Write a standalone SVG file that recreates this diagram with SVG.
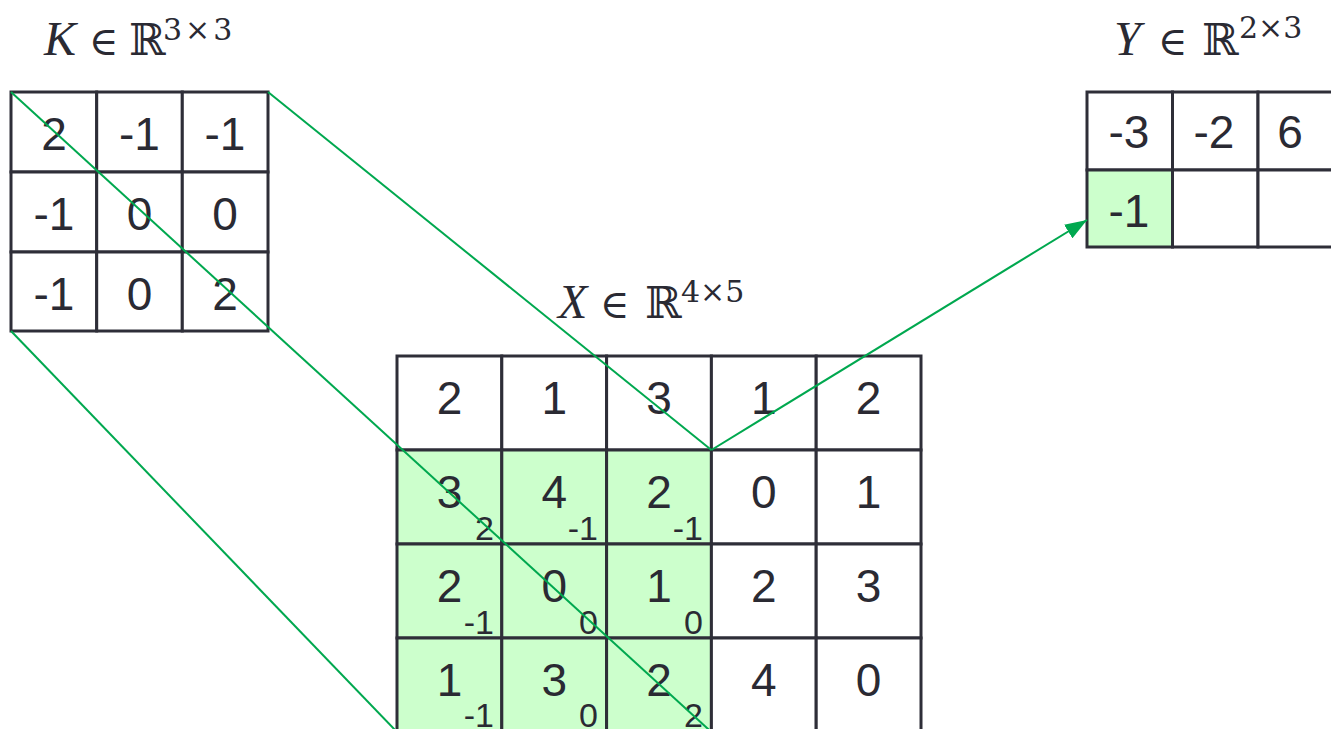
<svg xmlns="http://www.w3.org/2000/svg" width="1331" height="729" viewBox="0 0 1331 729">
<defs>
<style>
.cell{fill:#ffffff;stroke:#2e2e38;stroke-width:3}
.hl{fill:#ccffcc;stroke:#2e2e38;stroke-width:3}
.n{font-family:"Liberation Sans",Arial,sans-serif;font-size:46px;fill:#2a2a33;text-anchor:middle}
.s{font-family:"Liberation Sans",Arial,sans-serif;font-size:34px;fill:#2a2a33;text-anchor:end}
.t{font-family:"Liberation Serif","DejaVu Serif",serif;font-size:48px;fill:#2a2a33}
.it{font-style:italic}
.el{font-family:"DejaVu Serif","DejaVu Sans",serif;font-size:40px}
.sym{font-family:"DejaVu Serif","DejaVu Sans",serif;font-size:44px}
.sup{font-family:"DejaVu Serif","DejaVu Sans",serif;font-size:30px}
.con{stroke:#00a84f;stroke-width:2;fill:none}
</style>
<marker id="ah" markerUnits="userSpaceOnUse" markerWidth="22" markerHeight="16" refX="22" refY="8" orient="auto">
<path d="M0,0 L22,8 L0,16 z" fill="#00a84f"/>
</marker>
</defs>
<rect width="1331" height="729" fill="#ffffff"/>

<g id="title-K">
<text class="t" y="55"><tspan class="it" x="44">K</tspan><tspan class="el" x="89">∈</tspan><tspan class="sym" x="129">ℝ</tspan><tspan class="sup" x="163" y="40" letter-spacing="3">3×3</tspan></text>
</g>
<g id="title-X">
<text class="t" y="318"><tspan class="it" x="558">X</tspan><tspan class="el" x="600">∈</tspan><tspan class="sym" x="645">ℝ</tspan><tspan class="sup" x="681" y="302">4×5</tspan></text>
</g>
<g id="title-Y">
<text class="t" y="55"><tspan class="it" x="1114">Y</tspan><tspan class="el" x="1158">∈</tspan><tspan class="sym" x="1202">ℝ</tspan><tspan class="sup" x="1239" y="38">2×3</tspan></text>
</g>

<g id="K">
<rect class="cell" x="11" y="92" width="85.7" height="80"/>
<rect class="cell" x="96.7" y="92" width="85.6" height="80"/>
<rect class="cell" x="182.3" y="92" width="85.7" height="80"/>
<rect class="cell" x="11" y="172" width="85.7" height="80"/>
<rect class="cell" x="96.7" y="172" width="85.6" height="80"/>
<rect class="cell" x="182.3" y="172" width="85.7" height="80"/>
<rect class="cell" x="11" y="252" width="85.7" height="79"/>
<rect class="cell" x="96.7" y="252" width="85.6" height="79"/>
<rect class="cell" x="182.3" y="252" width="85.7" height="79"/>
<text class="n" x="54" y="150">2</text>
<text class="n" x="139.5" y="150">-1</text>
<text class="n" x="225" y="150">-1</text>
<text class="n" x="54" y="230">-1</text>
<text class="n" x="139.5" y="230">0</text>
<text class="n" x="225" y="230">0</text>
<text class="n" x="54" y="310">-1</text>
<text class="n" x="139.5" y="310">0</text>
<text class="n" x="225" y="310">2</text>
</g>

<g id="X">
<rect class="cell" x="397" y="356" width="104.8" height="94"/>
<rect class="cell" x="501.8" y="356" width="104.8" height="94"/>
<rect class="cell" x="606.6" y="356" width="104.8" height="94"/>
<rect class="cell" x="711.4" y="356" width="104.8" height="94"/>
<rect class="cell" x="816.2" y="356" width="104.8" height="94"/>
<rect class="hl" x="397" y="450" width="104.8" height="94"/>
<rect class="hl" x="501.8" y="450" width="104.8" height="94"/>
<rect class="hl" x="606.6" y="450" width="104.8" height="94"/>
<rect class="cell" x="711.4" y="450" width="104.8" height="94"/>
<rect class="cell" x="816.2" y="450" width="104.8" height="94"/>
<rect class="hl" x="397" y="544" width="104.8" height="94"/>
<rect class="hl" x="501.8" y="544" width="104.8" height="94"/>
<rect class="hl" x="606.6" y="544" width="104.8" height="94"/>
<rect class="cell" x="711.4" y="544" width="104.8" height="94"/>
<rect class="cell" x="816.2" y="544" width="104.8" height="94"/>
<rect class="hl" x="397" y="638" width="104.8" height="94"/>
<rect class="hl" x="501.8" y="638" width="104.8" height="94"/>
<rect class="hl" x="606.6" y="638" width="104.8" height="94"/>
<rect class="cell" x="711.4" y="638" width="104.8" height="94"/>
<rect class="cell" x="816.2" y="638" width="104.8" height="94"/>
<text class="n" x="449.5" y="414">2</text>
<text class="n" x="554.2" y="414">1</text>
<text class="n" x="659" y="414">3</text>
<text class="n" x="763.8" y="414">1</text>
<text class="n" x="868.6" y="414">2</text>
<text class="n" x="449.5" y="508">3</text>
<text class="n" x="554.2" y="508">4</text>
<text class="n" x="659" y="508">2</text>
<text class="n" x="763.8" y="508">0</text>
<text class="n" x="868.6" y="508">1</text>
<text class="n" x="449.5" y="602">2</text>
<text class="n" x="554.2" y="602">0</text>
<text class="n" x="659" y="602">1</text>
<text class="n" x="763.8" y="602">2</text>
<text class="n" x="868.6" y="602">3</text>
<text class="n" x="449.5" y="696">1</text>
<text class="n" x="554.2" y="696">3</text>
<text class="n" x="659" y="696">2</text>
<text class="n" x="763.8" y="696">4</text>
<text class="n" x="868.6" y="696">0</text>
<text class="s" x="494" y="540">2</text>
<text class="s" x="598" y="540">-1</text>
<text class="s" x="703" y="540">-1</text>
<text class="s" x="494" y="634">-1</text>
<text class="s" x="598" y="634">0</text>
<text class="s" x="703" y="634">0</text>
<text class="s" x="494" y="727">-1</text>
<text class="s" x="598" y="727">0</text>
<text class="s" x="703" y="727">2</text>
</g>

<g id="Y">
<rect class="cell" x="1087" y="92" width="85.5" height="78"/>
<rect class="cell" x="1172.5" y="92" width="85.5" height="78"/>
<rect class="cell" x="1258" y="92" width="85.5" height="78"/>
<rect class="hl" x="1087" y="170" width="85.5" height="77"/>
<rect class="cell" x="1172.5" y="170" width="85.5" height="77"/>
<rect class="cell" x="1258" y="170" width="85.5" height="77"/>
<text class="n" x="1129" y="148">-3</text>
<text class="n" x="1214" y="148">-2</text>
<text class="n" x="1290" y="148">6</text>
<text class="n" x="1129" y="227">-1</text>
</g>

<g id="connectors">
<line class="con" x1="11" y1="92" x2="711.4" y2="732"/>
<line class="con" x1="268" y1="92" x2="711.4" y2="450"/>
<line class="con" x1="11" y1="331" x2="397" y2="732"/>
<line class="con" x1="711.4" y1="450" x2="1087" y2="220" marker-end="url(#ah)"/>
</g>
</svg>
